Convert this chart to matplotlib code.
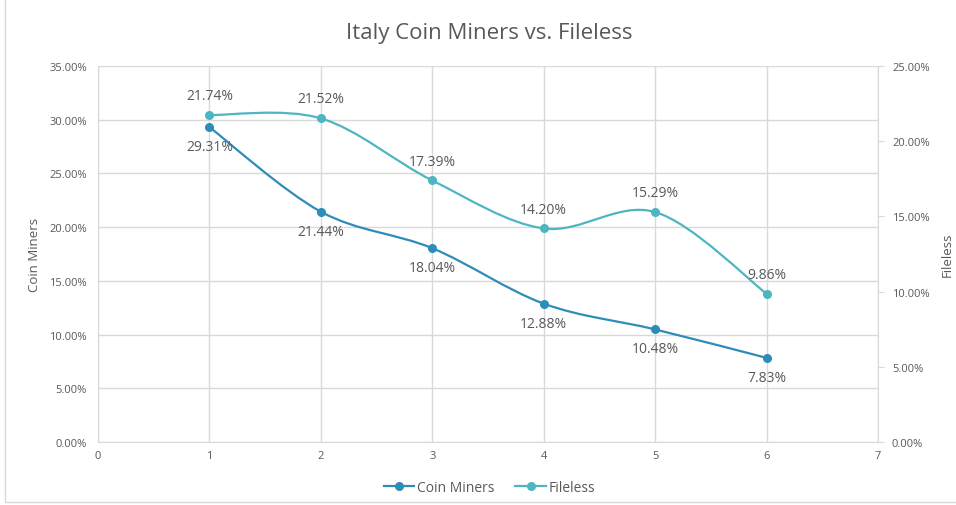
import matplotlib.pyplot as plt
import matplotlib.ticker as ticker
from matplotlib.path import Path
from matplotlib.patches import PathPatch, Rectangle
from matplotlib.lines import Line2D

plt.rcParams['font.family'] = ['Open Sans', 'DejaVu Sans']

x = [1, 2, 3, 4, 5, 6]
coin_miners = [0.2931, 0.2144, 0.1804, 0.1288, 0.1048, 0.0783]
fileless = [0.2174, 0.2152, 0.1739, 0.1420, 0.1529, 0.0986]

c_coin = '#2E8DB8'
c_file = '#4DB6C0'
txt = '#595959'
grid_c = '#D9D9D9'


def smooth_path(xs, ys):
    # excel-style smoothed line: cubic bezier through the points
    n = len(xs)
    verts = [(xs[0], ys[0])]
    codes = [Path.MOVETO]
    for i in range(n - 1):
        x0, y0 = (xs[i - 1], ys[i - 1]) if i > 0 else (xs[i], ys[i])
        x3, y3 = (xs[i + 2], ys[i + 2]) if i + 2 < n else (xs[i + 1], ys[i + 1])
        c1 = (xs[i] + (xs[i + 1] - x0) / 6, ys[i] + (ys[i + 1] - y0) / 6)
        c2 = (xs[i + 1] - (x3 - xs[i]) / 6, ys[i + 1] - (y3 - ys[i]) / 6)
        verts += [c1, c2, (xs[i + 1], ys[i + 1])]
        codes += [Path.CURVE4] * 3
    return Path(verts, codes)


fig = plt.figure(figsize=(9.56, 5.06), dpi=100)
fig.patches.append(Rectangle((0.005, 0.005), 0.999, 0.999, transform=fig.transFigure,
                             fill=False, edgecolor=grid_c, lw=1))
ax = fig.add_axes([0.1025, 0.1245, 0.816, 0.743])
ax2 = ax.twinx()

ax.set_xlim(0, 7)
ax.set_ylim(0, 0.35)
ax2.set_ylim(0, 0.25)
ax.set_xticks(range(0, 8))
ax.yaxis.set_major_locator(ticker.MultipleLocator(0.05))
ax2.yaxis.set_major_locator(ticker.MultipleLocator(0.05))
ax.yaxis.set_major_formatter(ticker.FuncFormatter(lambda v, p: f'{v*100:.2f}%'))
ax2.yaxis.set_major_formatter(ticker.FuncFormatter(lambda v, p: f'{v*100:.2f}%'))
ax.grid(True, color=grid_c, lw=1)
ax.set_axisbelow(True)

for a in (ax, ax2):
    for s in a.spines.values():
        s.set_visible(False)
ax.spines['bottom'].set_visible(True)
ax.spines['bottom'].set_color(grid_c)
ax.spines['left'].set_visible(True)
ax.spines['left'].set_color(grid_c)
ax2.spines['right'].set_visible(True)
ax2.spines['right'].set_color(grid_c)

ax.tick_params(axis='both', length=0, labelsize=8, colors=txt, pad=6)
ax.tick_params(axis='y', pad=8)
ax2.tick_params(axis='y', length=4, color=grid_c, labelsize=8, labelcolor=txt, pad=6)

ax.add_patch(PathPatch(smooth_path(x, coin_miners), fill=False, edgecolor=c_coin,
                       lw=1.6, transform=ax.transData, zorder=3))
ax.plot(x, coin_miners, 'o', color=c_coin, ms=5.5, zorder=4)
ax2.add_patch(PathPatch(smooth_path(x, fileless), fill=False, edgecolor=c_file,
                        lw=1.6, transform=ax2.transData, zorder=3))
ax2.plot(x, fileless, 'o', color=c_file, ms=5.5, zorder=4)

for xi, v in zip(x, coin_miners):
    ax.annotate(f'{v*100:.2f}%', (xi, v), xytext=(0, -14), textcoords='offset points',
                ha='center', va='center', fontsize=10, color=txt)
for xi, v in zip(x, fileless):
    ax2.annotate(f'{v*100:.2f}%', (xi, v), xytext=(0, 14), textcoords='offset points',
                 ha='center', va='center', fontsize=10, color=txt)

ax.set_ylabel('Coin Miners', fontsize=9.5, color=txt, labelpad=6)
ax2.set_ylabel('Fileless', fontsize=9.5, color=txt, labelpad=8)
fig.suptitle('Italy Coin Miners vs. Fileless', x=0.512, y=0.955, fontsize=16, color=txt)

handles = [Line2D([], [], color=c_coin, marker='o', ms=5.5, lw=1.6),
           Line2D([], [], color=c_file, marker='o', ms=5.5, lw=1.6)]
fig.legend(handles, ['Coin Miners', 'Fileless'], loc='center', bbox_to_anchor=(0.512, 0.034),
           ncol=2, frameon=False, fontsize=10, labelcolor=txt, handlelength=2.2,
           handletextpad=0.2, columnspacing=1.5)

fig.savefig('out.png', dpi=100)
